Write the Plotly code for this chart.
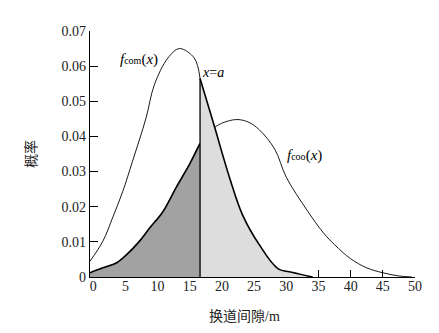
import plotly.graph_objects as go

# Threshold x = a
a = 16.6

# f_com(x)
com_x = [-0.5, 1.5, 3.0, 4.6, 6.1, 8.2, 9.5, 11.6, 13.4, 15.7, 16.6, 18.6, 21.2, 23.2, 25.8, 28.7, 31.0, 34.1]
com_y = [0.0045, 0.0102, 0.0168, 0.0244, 0.0329, 0.0452, 0.0547, 0.0623, 0.0650, 0.0623, 0.0565,
         0.0443, 0.0282, 0.0177, 0.0092, 0.0024, 0.0013, 0.0]

# f_coo(x)
coo_x = [-0.5, 1.5, 3.6, 5.1, 7.1, 8.8, 10.8, 12.9, 15.0, 16.6, 17.8, 19.1, 20.8, 22.5, 24.2,
         25.8, 28.2, 30.0, 33.3, 35.8, 37.5, 40.0, 42.5, 45.0, 47.5, 49.5]
coo_y = [0.0012, 0.0026, 0.0040, 0.0062, 0.0100, 0.0140, 0.0185, 0.0255, 0.0322, 0.0380, 0.0408,
         0.0429, 0.0443, 0.0448, 0.0440, 0.0419, 0.0364, 0.0284, 0.0188, 0.0125, 0.0092, 0.0052,
         0.0026, 0.0012, 0.0003, 0.0]

x_ticks = [0, 5, 10, 15, 20, 25, 30, 35, 40, 45, 50]
x_tick_marks = [35, 40, 45, 50]
y_ticks = [0, 0.01, 0.02, 0.03, 0.04, 0.05, 0.06, 0.07]
y_labels = ["0", "0.01", "0.02", "0.03", "0.04", "0.05", "0.06", "0.07"]

SERIF = "Liberation Serif, Times New Roman, serif"
CJK = "Noto Sans CJK SC"
DARK = "#a2a2a2"
LIGHT = "#dcdddc"

coo_left_x = [x for x in coo_x if x <= a]
coo_left_y = [y for x, y in zip(coo_x, coo_y) if x <= a]
com_left_x = [x for x in com_x if x <= a]
com_left_y = [y for x, y in zip(com_x, com_y) if x <= a]
com_right_x = [x for x in com_x if x >= a]
com_right_y = [y for x, y in zip(com_x, com_y) if x >= a]
com_at_a = com_y[com_x.index(a)]

fig = go.Figure()
# full f_coo thin line
fig.add_trace(go.Scatter(x=coo_x, y=coo_y, mode="lines",
                         line=dict(color="black", width=0.9, shape="spline", smoothing=1)))
# dark area under f_coo left of a
fig.add_trace(go.Scatter(x=coo_left_x, y=coo_left_y, mode="lines", fill="tozeroy",
                         fillcolor=DARK,
                         line=dict(color="black", width=1.6, shape="spline", smoothing=1)))
# light area under f_com right of a
fig.add_trace(go.Scatter(x=com_right_x, y=com_right_y, mode="lines", fill="tozeroy",
                         fillcolor=LIGHT,
                         line=dict(color="black", width=1.6, shape="spline", smoothing=1)))
# f_com thin left part
fig.add_trace(go.Scatter(x=com_left_x, y=com_left_y, mode="lines",
                         line=dict(color="black", width=0.9, shape="spline", smoothing=1)))
# vertical line x = a
fig.add_trace(go.Scatter(x=[a, a], y=[0, com_at_a], mode="lines",
                         line=dict(color="black", width=1.3)))
# dummy trace to host tick-only overlay axis
fig.add_trace(go.Scatter(x=[x_tick_marks[0]], y=[None], xaxis="x2", mode="lines",
                         hoverinfo="skip"))

fig.update_layout(
    width=439, height=333,
    margin=dict(l=82, r=32, t=23, b=64),
    paper_bgcolor="white", plot_bgcolor="white",
    showlegend=False,
    font=dict(family=SERIF, size=13, color="black"),
    xaxis=dict(range=[-0.5, 50], tickvals=x_ticks, ticks="", showgrid=False, zeroline=False,
               showline=True, linecolor="black", linewidth=1.2, ticklabelstandoff=-4,
               tickfont=dict(family=SERIF, size=14, color="#222")),
    xaxis2=dict(range=[-0.5, 50], overlaying="x", anchor="y", side="bottom",
                tickvals=x_tick_marks, ticks="inside", ticklen=7, tickcolor="black",
                tickwidth=1.1, showticklabels=False, showgrid=False, zeroline=False,
                showline=False),
    yaxis=dict(range=[0, 0.07], tickvals=y_ticks, ticktext=y_labels, ticks="inside",
               ticklen=8, tickcolor="black", tickwidth=1.1, showgrid=False, zeroline=False,
               showline=True, linecolor="black", linewidth=1.2,
               tickfont=dict(family=SERIF, size=14, color="#222")),
    annotations=[
        dict(text="换道间隙<span style='font-family:Liberation Serif'>/m</span>",
             xref="paper", yref="paper", x=0.474, y=-0.155, xanchor="center", yanchor="middle",
             showarrow=False, font=dict(family=CJK, size=14, color="#222")),
        dict(text="概率", xref="paper", yref="paper", x=-0.185, y=0.5, textangle=-90,
             xanchor="center", yanchor="middle",
             showarrow=False, font=dict(family=CJK, size=14, color="#222")),
        dict(text="<i>f</i><span style='font-size:10px'>com</span>(<i>x</i>)", x=7.1, y=0.0618,
             showarrow=False, font=dict(family=SERIF, size=15, color="black")),
        dict(text="<i>x</i>=<i>a</i>", x=18.6, y=0.0583, showarrow=False,
             font=dict(family=SERIF, size=14, color="black")),
        dict(text="<i>f</i><span style='font-size:10px'>coo</span>(<i>x</i>)", x=32.9, y=0.0347,
             showarrow=False, font=dict(family=SERIF, size=15, color="black")),
    ],
)

fig.write_html("out.html")
